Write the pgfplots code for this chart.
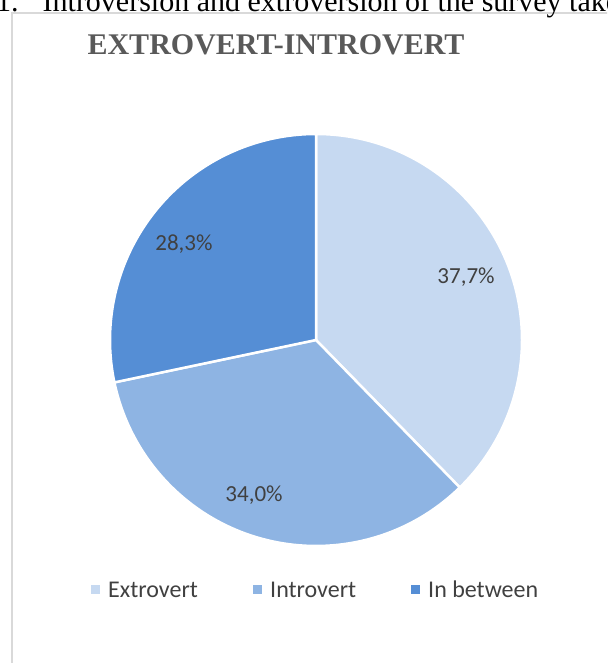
\documentclass[border=0pt]{standalone}
\usepackage{pgfplots}
\pgfplotsset{compat=1.18}
\usepackage{fontspec}
\setmainfont{Liberation Serif}
\newfontfamily\calibri{Carlito}
\definecolor{cA}{HTML}{C6D9F1}
\definecolor{cB}{HTML}{8EB4E3}
\definecolor{cC}{HTML}{558ED5}
\definecolor{txt}{HTML}{404040}
\definecolor{ttl}{HTML}{595959}
\definecolor{frm}{HTML}{D9D9D9}
% data (percent)
\def\vA{37.7}\def\vB{34.0}\def\vC{28.3}
\pgfmathsetmacro\aA{90}
\pgfmathsetmacro\aB{\aA-3.6*\vA}
\pgfmathsetmacro\aC{\aB-3.6*\vB}
\pgfmathsetmacro\aD{\aC-3.6*\vC}
\begin{document}
\begin{tikzpicture}
\useasboundingbox (0,0) rectangle (607pt,663pt);
\clip (0,0) rectangle (607pt,663pt);
\begin{axis}[at={(0,0)},anchor=south west,scale only axis,width=607pt,height=663pt,
  xmin=0,xmax=607,ymin=0,ymax=663,hide axis,clip=false]
% frame
\draw[frm,line width=2pt] (axis cs:12,-20) -- (axis cs:12,650) -- (axis cs:640,650);
% header line (cut off as in the reference)
\node[anchor=base west,inner sep=0pt,font=\fontsize{30}{36}\selectfont] at (axis cs:-4,651.5)
  {1.\hspace{24pt}Introversion and extroversion of the survey takers};
% title
\node[anchor=base,inner sep=0pt,text=ttl,font=\bfseries\fontsize{30}{36}\selectfont] at (axis cs:276,608) {EXTROVERT-INTROVERT};
% slices
\filldraw[fill=cA,draw=white,line width=2.5pt,line join=round] (axis cs:316,323) -- ++(\aA:206pt) arc[start angle=\aA,end angle=\aB,radius=206pt] -- cycle;
\filldraw[fill=cB,draw=white,line width=2.5pt,line join=round] (axis cs:316,323) -- ++(\aB:206pt) arc[start angle=\aB,end angle=\aC,radius=206pt] -- cycle;
\filldraw[fill=cC,draw=white,line width=2.5pt,line join=round] (axis cs:316,323) -- ++(\aC:206pt) arc[start angle=\aC,end angle=\aD,radius=206pt] -- cycle;
% labels
\node[text=txt,font=\calibri\fontsize{23}{28}\selectfont] at (axis cs:466,386) {37,7\%};
\node[text=txt,font=\calibri\fontsize{23}{28}\selectfont] at (axis cs:254,168) {34,0\%};
\node[text=txt,font=\calibri\fontsize{23}{28}\selectfont] at (axis cs:184,419) {28,3\%};
% legend
\fill[cA] (axis cs:91,69) rectangle (axis cs:100,78);
\fill[cB] (axis cs:253,69) rectangle (axis cs:262,78);
\fill[cC] (axis cs:411,69) rectangle (axis cs:420,78);
\node[anchor=base west,inner sep=0pt,text=txt,font=\calibri\fontsize{24}{29}\selectfont] at (axis cs:108,65) {Extrovert};
\node[anchor=base west,inner sep=0pt,text=txt,font=\calibri\fontsize{24}{29}\selectfont] at (axis cs:270,65) {Introvert};
\node[anchor=base west,inner sep=0pt,text=txt,font=\calibri\fontsize{24}{29}\selectfont] at (axis cs:428,65) {In between};
\end{axis}
\end{tikzpicture}
\end{document}
